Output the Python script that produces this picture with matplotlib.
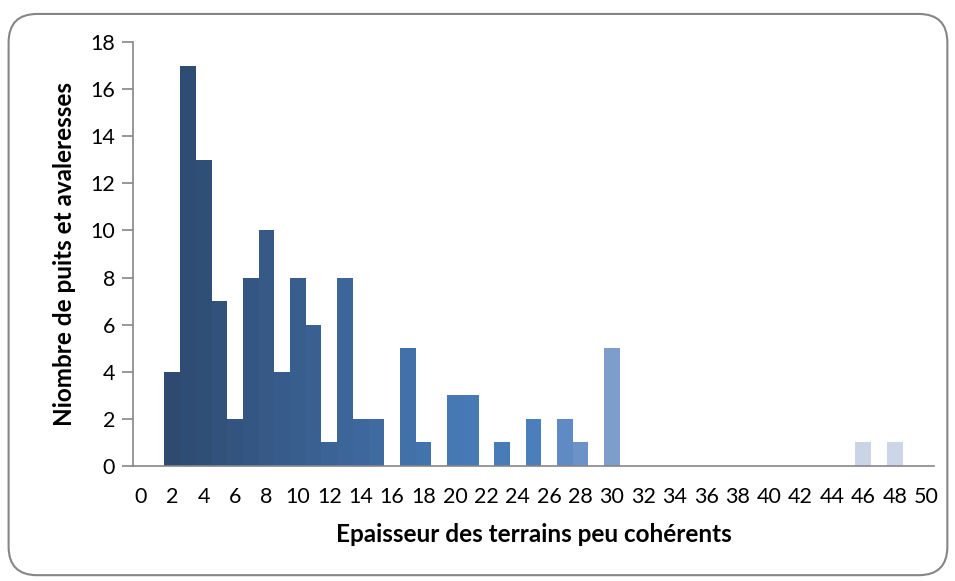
import matplotlib.pyplot as plt
from matplotlib.colors import LinearSegmentedColormap
from matplotlib.patches import FancyBboxPatch

# epaisseur (m) et nombre de puits
epaisseur = list(range(0, 51))
nombre = [0, 0, 4, 17, 13, 7, 2, 8, 10, 4,
          8, 6, 1, 8, 2, 2, 0, 5, 1, 0,
          3, 3, 0, 1, 0, 2, 0, 2, 1, 0,
          5, 0, 0, 0, 0, 0, 0, 0, 0, 0,
          0, 0, 0, 0, 0, 0, 1, 0, 1, 0,
          0]
tick_labels = [str(v) for v in range(0, 51, 2)]

# colour ramp along the x axis (position -> colour)
ramp = [(0.0, '#2D486D'), (2 / 50, '#2E4A70'), (12 / 50, '#3B6396'),
        (20 / 50, '#4678B4'), (25 / 50, '#4A7EBC'), (27 / 50, '#5E89C3'),
        (28 / 50, '#6C93C8'), (30 / 50, '#7D9DCA'), (46 / 50, '#C9D4E7'),
        (1.0, '#CED8E9')]
cmap = LinearSegmentedColormap.from_list('ramp', ramp)

plt.rcParams['font.family'] = ['Lato', 'DejaVu Sans']

fig = plt.figure(figsize=(9.55, 5.81), dpi=100)
frame = FancyBboxPatch((0.009, 0.010), 0.983, 0.966,
                       boxstyle='round,pad=0,rounding_size=0.03',
                       transform=fig.transFigure, facecolor='none',
                       edgecolor='#868686', linewidth=1.5, zorder=-1,
                       mutation_aspect=955 / 581)
fig.patches.append(frame)

ax = fig.add_axes([0.1393, 0.198, 0.8387, 0.7297])
ax.patch.set_alpha(0)
colors = [cmap(x / 50) for x in epaisseur]
ax.bar(epaisseur, nombre, width=1.0, color=colors, linewidth=0)

ax.set_xlim(-0.5, 50.5)
ax.set_ylim(0, 18)
ax.set_yticks(range(0, 19, 2))
ax.set_xticks(range(0, 51, 2))
ax.set_xticklabels(tick_labels)

for s in ['top', 'right']:
    ax.spines[s].set_visible(False)
for s in ['left', 'bottom']:
    ax.spines[s].set_color('#868686')
    ax.spines[s].set_linewidth(1.2)
ax.tick_params(axis='y', length=8, width=1.2, color='#868686',
               labelsize=15.5, pad=5)
ax.tick_params(axis='x', length=0, labelsize=15.5, pad=15)

ax.set_xlabel('Epaisseur des terrains peu cohérents', fontsize=17.5,
              fontweight='bold', labelpad=12)
ax.set_ylabel('Niombre de puits et avaleresses', fontsize=17.5,
              fontweight='bold', labelpad=10)

plt.savefig('out.png', dpi=100)
